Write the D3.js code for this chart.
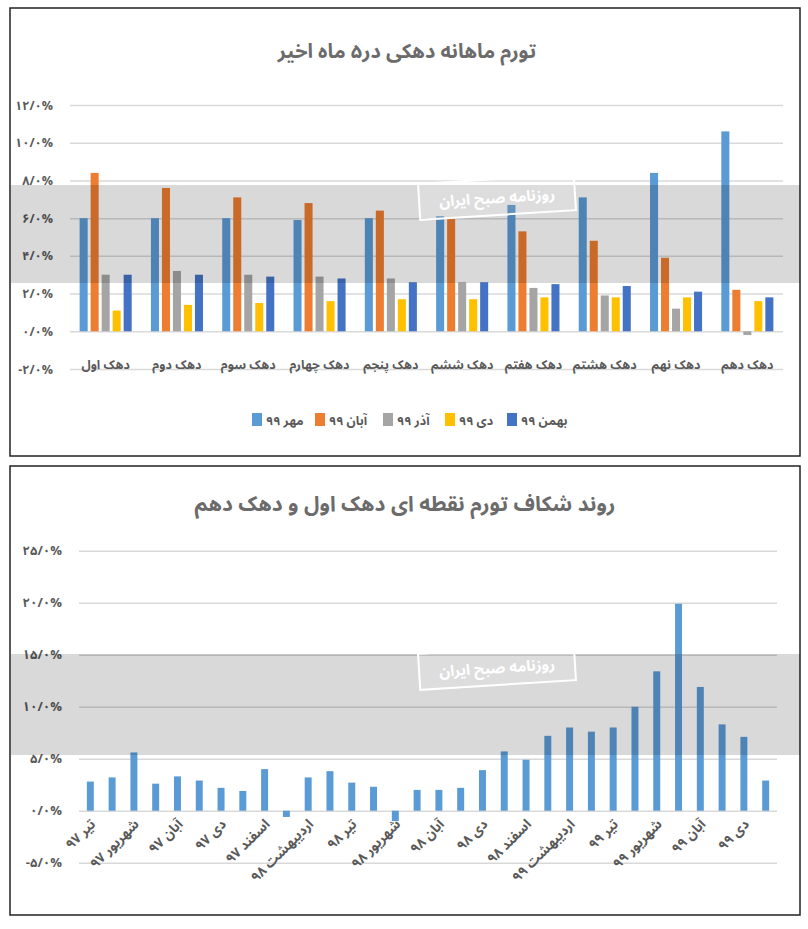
<!DOCTYPE html>
<html>
<head>
<meta charset="utf-8">
<script src="https://cdn.jsdelivr.net/npm/d3@7"></script>
<style>
  body { margin: 0; background: #fff; }
  svg { display: block; }
  text { font-family: "Noto Sans Arabic", "DejaVu Sans", sans-serif; font-weight: bold; }
</style>
</head>
<body>
<script>
// top chart: monthly inflation by decile, last 5 months
const deciles = ["دهک اول", "دهک دوم", "دهک سوم", "دهک چهارم", "دهک پنجم",
                 "دهک ششم", "دهک هفتم", "دهک هشتم", "دهک نهم", "دهک دهم"];
const seriesNames = ["مهر ۹۹", "آبان ۹۹", "آذر ۹۹", "دی ۹۹", "بهمن ۹۹"];
const mehr   = [6.0, 6.0, 6.0, 5.9, 6.0, 6.1, 6.7, 7.1, 8.4, 10.6];
const aban   = [8.4, 7.6, 7.1, 6.8, 6.4, 6.0, 5.3, 4.8, 3.9, 2.2];
const azar   = [3.0, 3.2, 3.0, 2.9, 2.8, 2.6, 2.3, 1.9, 1.2, -0.2];
const dey    = [1.1, 1.4, 1.5, 1.6, 1.7, 1.7, 1.8, 1.8, 1.8, 1.6];
const bahman = [3.0, 3.0, 2.9, 2.8, 2.6, 2.6, 2.5, 2.4, 2.1, 1.8];
const topTicks = [-2, 0, 2, 4, 6, 8, 10, 12];

// bottom chart: point inflation gap between decile 1 and decile 10
const months = [
  "تیر ۹۷", "مرداد ۹۷", "شهریور ۹۷", "مهر ۹۷", "آبان ۹۷", "آذر ۹۷", "دی ۹۷", "بهمن ۹۷", "اسفند ۹۷",
  "فروردین ۹۸", "اردیبهشت ۹۸", "خرداد ۹۸", "تیر ۹۸", "مرداد ۹۸", "شهریور ۹۸", "مهر ۹۸",
  "آبان ۹۸", "آذر ۹۸", "دی ۹۸", "بهمن ۹۸", "اسفند ۹۸",
  "فروردین ۹۹", "اردیبهشت ۹۹", "خرداد ۹۹", "تیر ۹۹", "مرداد ۹۹", "شهریور ۹۹", "مهر ۹۹",
  "آبان ۹۹", "آذر ۹۹", "دی ۹۹", "بهمن ۹۹"];
const gap = [2.8, 3.2, 5.6, 2.6, 3.3, 2.9, 2.2, 1.9, 4.0, -0.6, 3.2, 3.8, 2.7, 2.3, -1.0, 2.0,
             2.0, 2.2, 3.9, 5.7, 4.9, 7.2, 8.0, 7.6, 8.0, 10.0, 13.4, 19.9, 11.9, 8.3, 7.1, 2.9];
const bottomTicks = [-5, 0, 5, 10, 15, 20, 25];

const colors = ["#5b9bd5", "#ed7d31", "#a5a5a5", "#ffc000", "#4472c4"];
const textColor = "#595959";
const gridColor = "#d9d9d9";

const faDigits = s => String(s).replace(/\d/g, d => "۰۱۲۳۴۵۶۷۸۹"[d]);
const pct = d => faDigits(d.toFixed(1)).replace(".", "/") + "%";

const svg = d3.select("body").append("svg")
  .attr("width", 808)
  .attr("height", 929);

// panel frames
svg.append("rect").attr("x", 10).attr("y", 8).attr("width", 790).attr("height", 448)
  .attr("fill", "#fff").attr("stroke", "#222").attr("stroke-width", 1.5);
svg.append("rect").attr("x", 10).attr("y", 466).attr("width", 790).attr("height", 449)
  .attr("fill", "#fff").attr("stroke", "#222").attr("stroke-width", 1.5);

// ---------- top chart ----------
const topG = svg.append("g");

topG.append("text")
  .text("تورم ماهانه دهکی در۵ ماه اخیر")
  .attr("x", 407).attr("y", 58)
  .attr("text-anchor", "middle")
  .attr("font-size", 20)
  .attr("fill", "#6b6b6b");

const yTop = d3.scaleLinear().domain([-2, 12]).range([369, 105]);
const x0 = d3.scaleBand().domain(deciles).range([70, 783])
  .paddingInner(0.27).paddingOuter(0.135);
const x1 = d3.scaleBand().domain(seriesNames).range([0, x0.bandwidth()]).paddingInner(0.27);

const topAxis = topG.append("g")
  .attr("transform", "translate(70,0)")
  .call(d3.axisLeft(yTop).tickValues(topTicks).tickFormat(pct).tickSize(-713).tickPadding(17));
topAxis.select(".domain").remove();
topAxis.selectAll("line").attr("stroke", gridColor).attr("stroke-width", 1.5);
topAxis.selectAll("text").attr("fill", textColor).attr("font-size", 12.5).attr("font-family", null);

const topSeries = [mehr, aban, azar, dey, bahman];
topSeries.forEach((vals, si) => {
  topG.append("g").selectAll("rect")
    .data(vals)
    .join("rect")
    .attr("x", (d, i) => x0(deciles[i]) + x1(seriesNames[si]))
    .attr("y", d => yTop(Math.max(0, d)))
    .attr("width", x1.bandwidth())
    .attr("height", d => Math.abs(yTop(d) - yTop(0)))
    .attr("fill", colors[si]);
});

topG.append("g").selectAll("text")
  .data(deciles)
  .join("text")
  .text(d => d)
  .attr("x", d => x0(d) + x0.bandwidth() / 2)
  .attr("y", 369)
  .attr("text-anchor", "middle")
  .attr("font-size", 12.5)
  .attr("fill", textColor);

// legend
const legendX = [252, 315, 383, 445, 507];
const legend = topG.append("g").selectAll("g")
  .data(seriesNames)
  .join("g")
  .attr("transform", (d, i) => `translate(${legendX[i]},413)`);
legend.append("rect").attr("width", 10).attr("height", 13).attr("fill", (d, i) => colors[i]);
legend.append("text").text(d => d)
  .attr("x", 14).attr("y", 11.5)
  .attr("font-size", 12.5)
  .attr("fill", textColor);

// ---------- bottom chart ----------
const botG = svg.append("g");

botG.append("text")
  .text("روند شکاف تورم نقطه ای دهک اول و دهک دهم")
  .attr("x", 405).attr("y", 511)
  .attr("text-anchor", "middle")
  .attr("font-size", 21)
  .attr("fill", "#6b6b6b");

const yBot = d3.scaleLinear().domain([-5, 25]).range([862.7, 550.7]);
const xBot = d3.scaleBand().domain(months).range([79, 777])
  .paddingInner(0.68).paddingOuter(0.36);

const botAxis = botG.append("g")
  .attr("transform", "translate(79,0)")
  .call(d3.axisLeft(yBot).tickValues(bottomTicks).tickFormat(pct).tickSize(-698).tickPadding(17));
botAxis.select(".domain").remove();
botAxis.selectAll("line").attr("stroke", gridColor).attr("stroke-width", 1.5);
botAxis.selectAll("text").attr("fill", textColor).attr("font-size", 13).attr("font-family", null);

botG.append("g").selectAll("rect")
  .data(gap)
  .join("rect")
  .attr("x", (d, i) => xBot(months[i]))
  .attr("y", d => yBot(Math.max(0, d)))
  .attr("width", xBot.bandwidth())
  .attr("height", d => Math.abs(yBot(d) - yBot(0)))
  .attr("fill", colors[0]);

botG.append("g").selectAll("text")
  .data(months.filter((d, i) => i % 2 === 0))
  .join("text")
  .text(d => d)
  .attr("text-anchor", "end")
  .attr("transform", d => `translate(${xBot(d) + xBot.bandwidth() / 2 + 6},825) rotate(-45)`)
  .attr("font-size", 13.5)
  .attr("fill", textColor);

// ---------- watermark band + stamp ----------
function watermark(bandTop, bandBottom, boxY) {
  const wm = svg.append("g").attr("pointer-events", "none");
  wm.append("rect")
    .attr("x", 11).attr("y", bandTop)
    .attr("width", 789).attr("height", bandBottom - bandTop)
    .attr("fill", "#000").attr("opacity", 0.15);
  const box = wm.append("g").attr("transform", `translate(497,${boxY}) rotate(-3.6)`);
  box.append("rect")
    .attr("x", -78).attr("y", -18).attr("width", 156).attr("height", 36)
    .attr("fill", "#fff").attr("fill-opacity", 0.12)
    .attr("stroke", "#fff").attr("stroke-width", 2);
  box.append("text")
    .text("روزنامه صبح ایران")
    .attr("text-anchor", "middle").attr("y", 6)
    .attr("font-size", 15)
    .attr("font-weight", "normal")
    .attr("fill", "#fff");
}
watermark(185, 283, 197);
watermark(654, 755, 667);
</script>
</body>
</html>
